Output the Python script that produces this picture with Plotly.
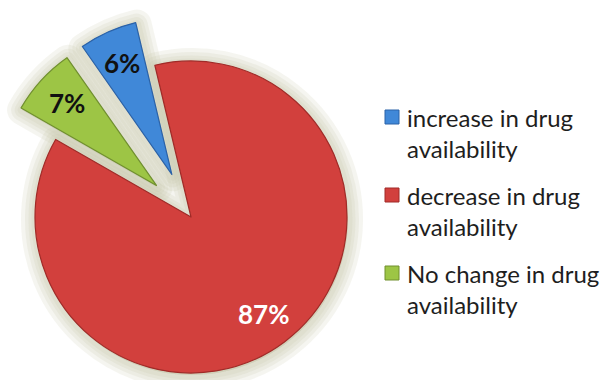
import math
import plotly.graph_objects as go

# Survey result: change in drug availability (percent of respondents)
labels = ["increase in drug availability",
          "decrease in drug availability",
          "No change in drug availability"]
legend_text = ["increase in drug<br>availability",
               "decrease in drug<br>availability",
               "No change in drug<br>availability"]
values = [6, 87, 7]
pulls = [0.3, 0.0, 0.3]

colors = ["#4088d8", "#d2403d", "#9dc545"]
edge_colors = ["#2b62a8", "#a02b28", "#70902e"]
label_colors = ["#111111", "#ffffff", "#111111"]

W, H = 603, 380
CX, CY, R = 191, 217, 156          # pie centre / radius in pixels
ROTATION = -35                      # first slice starts here (clockwise from 12 o'clock)
SHADOW_RGB = (198, 193, 165)
SHADOW_WIDTHS = [30, 22, 15, 9]     # stacked translucent strokes give a soft glow
SHADOW_ALPHA = 0.17
SHADOW_SHIFT = (1, 2)               # glow drifts slightly down-right

total = float(sum(values))
starts, mids = [], []
ang = ROTATION
for v in values:
    starts.append(ang)
    mids.append(ang + 180.0 * v / total)
    ang += 360.0 * v / total


def slice_centre(i):
    a = math.radians(mids[i])
    d = pulls[i] * R
    return CX + d * math.sin(a), CY - d * math.cos(a)


def domain(cx, cy):
    return dict(x=[max(0.0, (cx - R) / W), min(1.0, (cx + R) / W)],
                y=[max(0.0, 1 - (cy + R) / H), min(1.0, 1 - (cy - R) / H)])


fig = go.Figure()
n = len(values)
clear = "rgba(0,0,0,0)"

# soft glow behind every wedge
shadow = "rgba(%d,%d,%d,%.2f)" % (*SHADOW_RGB, SHADOW_ALPHA)
for w in SHADOW_WIDTHS:
    for i in range(n):
        cx, cy = slice_centre(i)
        cols = [shadow if j == i else clear for j in range(n)]
        fig.add_trace(go.Pie(
            labels=labels, values=values, sort=False, direction="clockwise",
            rotation=ROTATION,
            domain=domain(cx + SHADOW_SHIFT[0], cy + SHADOW_SHIFT[1]),
            marker=dict(colors=cols, line=dict(color=cols, width=w)),
            textinfo="none", hoverinfo="skip", showlegend=False,
        ))

# wedges: one trace per slice position so exploded wedges keep the full radius
for i in range(n):
    cx, cy = slice_centre(i)
    cols = [colors[j] if j == i else clear for j in range(n)]
    lcols = [edge_colors[j] if j == i else clear for j in range(n)]
    fig.add_trace(go.Pie(
        labels=labels, values=values, sort=False, direction="clockwise",
        rotation=ROTATION, domain=domain(cx, cy),
        marker=dict(colors=cols, line=dict(color=lcols, width=1.2)),
        textinfo="none", hoverinfo="skip", showlegend=False,
    ))

annotations = []
# percentage labels placed along each slice's mid-angle
for i, v in enumerate(values):
    cx, cy = slice_centre(i)
    a = math.radians(mids[i])
    rr = 0.78 * R
    px, py = cx + rr * math.sin(a), cy - rr * math.cos(a)
    annotations.append(dict(
        x=px / W, y=1 - py / H, xref="paper", yref="paper",
        text=f"<b>{v}%</b>", showarrow=False,
        font=dict(family="Lato, 'Open Sans', sans-serif", size=26, color=label_colors[i]),
        xanchor="center", yanchor="middle"))

# legend: swatch + two-line caption per category
legend_rows = [117, 195, 273]
shapes = []
for i, yc in enumerate(legend_rows):
    shapes.append(dict(
        type="rect", xref="paper", yref="paper",
        x0=385 / W, x1=399 / W, y0=1 - (yc + 7) / H, y1=1 - (yc - 7) / H,
        fillcolor=colors[i], line=dict(color=edge_colors[i], width=1)))
    annotations.append(dict(
        x=405 / W, y=1 - (yc + 16) / H, xref="paper", yref="paper",
        text=legend_text[i], showarrow=False, align="left",
        font=dict(family="Lato, 'Open Sans', sans-serif", size=24, color="#1e1e1e"),
        xanchor="left", yanchor="middle"))

fig.update_layout(
    width=W, height=H, margin=dict(l=0, r=0, t=0, b=0),
    paper_bgcolor="white", plot_bgcolor="white",
    showlegend=False, annotations=annotations, shapes=shapes,
)

fig.write_html("out.html")
